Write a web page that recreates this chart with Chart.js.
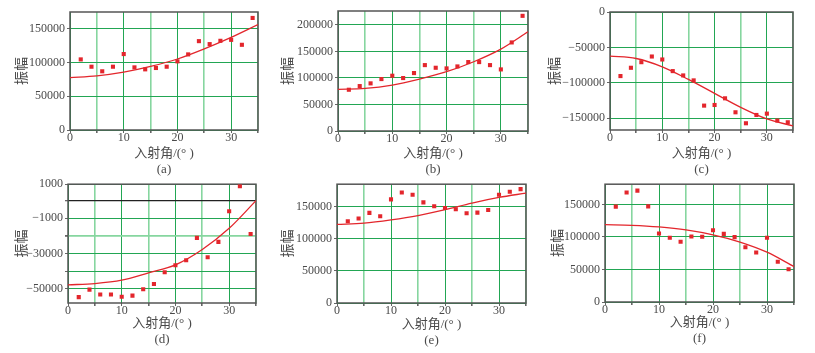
<!DOCTYPE html>
<html lang="zh">
<head>
<meta charset="UTF-8">
<title>振幅随入射角变化</title>
<script src="https://cdn.jsdelivr.net/npm/chart.js"></script>
<style>
  body {margin: 0; background: #fff;}
  #wrap {position: relative; width: 815px; height: 353px; overflow: hidden;}
  #wrap canvas {position: absolute;}
</style>
</head>
<body>
<div id="wrap">
  <canvas id="ca"></canvas>
  <canvas id="cb"></canvas>
  <canvas id="cc"></canvas>
  <canvas id="cd"></canvas>
  <canvas id="ce"></canvas>
  <canvas id="cf"></canvas>
</div>

<script>
  // 入射角 (measured points)
  const angles = [2, 4, 6, 8, 10, 12, 14, 16, 18, 20, 22, 24, 26, 28, 30, 32, 34];

  const ampA = [104400, 93600, 86800, 93600, 112300, 92600, 89700, 91700, 93600, 101500, 111800, 131400, 127000, 131900, 133300, 126000, 165700];
  const ampB = [77700, 84600, 89700, 97800, 104100, 99700, 109100, 124100, 119100, 117900, 121600, 129800, 129800, 124100, 116000, 166800, 216900];
  const ampC = [-90400, -78700, -70800, -62800, -67000, -83400, -89500, -96500, -132100, -131200, -121800, -141500, -157000, -145300, -143400, -153200, -155600];
  const ampD = [-54700, -50400, -53200, -53200, -54500, -53800, -50200, -47200, -40600, -36600, -33800, -21100, -32100, -23400, -6000, 8100, -18900];
  const ampE = [127400, 131500, 140300, 135100, 161400, 172100, 168500, 156700, 150600, 148000, 145900, 139800, 140800, 144900, 168500, 173200, 177300];
  const ampF = [146500, 168200, 171200, 147000, 105200, 98700, 92600, 100700, 100200, 110300, 104700, 99700, 84100, 76000, 98700, 61900, 50400];

  // fitted curves, read at every 5 degrees
  const fitX = [0, 5, 10, 15, 20, 25, 30, 35];
  const fitA = [77500, 80000, 85500, 94000, 105000, 120000, 137000, 156000];
  const fitB = [78400, 80200, 86500, 97800, 111600, 130400, 154200, 186800];
  const fitC = [-62300, -65600, -77300, -95100, -114800, -134500, -150900, -160700];
  const fitD = [-47700, -47000, -45100, -40900, -36400, -27700, -15700, 0];
  const fitE = [122300, 124400, 129500, 136200, 145400, 155700, 164400, 171100];
  const fitF = [118800, 117800, 115300, 110800, 103200, 92100, 76500, 54400];

  // axes
  const xRange = [0, 35];
  const xTicks = [0, 5, 10, 15, 20, 25, 30, 35];
  const xTickLabels = ['0', '', '10', '', '20', '', '30', ''];

  const yRangeA = [0, 174500];
  const yTicksA = [0, 50000, 100000, 150000];
  const yLabelsA = ['0', '50000', '100000', '150000'];
  const yRangeB = [0, 226000];
  const yTicksB = [0, 50000, 100000, 150000, 200000];
  const yLabelsB = ['0', '50000', '100000', '150000', '200000'];
  const yRangeC = [-166500, 0];
  const yTicksC = [0, -50000, -100000, -150000];
  const yLabelsC = ['0', '−50000', '−100000', '−150000'];
  const yRangeD = [-58000, 9300];
  const yTicksD = [9300, 0, -10000, -20000, -30000, -40000, -50000];
  const yLabelsD = ['1000', '', '−1000', '', '−30000', '', '−50000'];
  const yRangeE = [0, 185000];
  const yTicksE = [0, 50000, 100000, 150000];
  const yLabelsE = ['0', '50000', '100000', '150000'];
  const yRangeF = [0, 181000];
  const yTicksF = [0, 50000, 100000, 150000];
  const yLabelsF = ['0', '50000', '100000', '150000'];

  const xTitle = '入射角/(° )';
  const yTitle = '振幅';

  const SERIF = "'Liberation Serif', 'DejaVu Serif', serif";
  const TITLE_FONT = "'Liberation Serif', 'Noto Sans CJK SC', serif";
  const RED = '#e3262c';
  const DARK = '#22a653';
  const LIGHT = '#86d69f';
  const TEXT = '#4a4a4a';

  // box = canvas [x, y, w, h], area = plot [left, top, right, bottom] in page px
  const panels = [
    {id: 'ca', caption: '(a)', amp: ampA, fit: fitA, yRange: yRangeA, yTicks: yTicksA, yLabels: yLabelsA,
     box: [0, 0, 270, 178], area: [70, 12, 258, 130], yTitlePad: 14, capPad: 0},
    {id: 'cb', caption: '(b)', amp: ampB, fit: fitB, yRange: yRangeB, yTicks: yTicksB, yLabels: yLabelsB,
     box: [270, 0, 270, 178], area: [338, 11, 528, 131], yTitlePad: 10, capPad: 0},
    {id: 'cc', caption: '(c)', amp: ampC, fit: fitC, yRange: yRangeC, yTicks: yTicksC, yLabels: yLabelsC,
     box: [540, 0, 275, 178], area: [610, 12, 793, 130], yTitlePad: 7, capPad: 0},
    {id: 'cd', caption: '(d)', amp: ampD, fit: fitD, yRange: yRangeD, yTicks: yTicksD, yLabels: yLabelsD,
     box: [0, 175, 270, 178], area: [68, 184, 256, 303], yTitlePad: 14, capPad: 5, zeroLine: true, lightY: [-20000]},
    {id: 'ce', caption: '(e)', amp: ampE, fit: fitE, yRange: yRangeE, yTicks: yTicksE, yLabels: yLabelsE,
     box: [270, 175, 270, 178], area: [337, 182, 526, 303], yTitlePad: 10, capPad: 4},
    {id: 'cf', caption: '(f)', amp: ampF, fit: fitF, yRange: yRangeF, yTicks: yTicksF, yLabels: yLabelsF,
     box: [540, 175, 275, 178], area: [605, 182, 794, 302], yTitlePad: 10, capPad: 6}
  ];

  // plot frame on all four sides
  const framePlugin = {
    id: 'frame',
    beforeDatasetsDraw(chart) {
      const {ctx, chartArea: a} = chart;
      ctx.save();
      ctx.strokeStyle = '#555';
      ctx.lineWidth = 1.5;
      ctx.strokeRect(a.left, a.top, a.right - a.left, a.bottom - a.top);
      ctx.restore();
    }
  };

  panels.forEach(p => {
    const [bx, by, bw, bh] = p.box;
    const [L, T, R, B] = p.area;
    const canvas = document.getElementById(p.id);
    canvas.width = bw;
    canvas.height = bh;
    canvas.style.left = bx + 'px';
    canvas.style.top = by + 'px';

    const lightY = p.lightY || [];

    new Chart(canvas, {
      type: 'scatter',
      data: {
        datasets: [
          {
            data: p.amp.map((y, i) => ({x: angles[i], y: y})),
            pointStyle: 'rect',
            pointRadius: 2.9,
            backgroundColor: RED,
            borderWidth: 0,
            showLine: false
          },
          {
            data: fitX.map((x, i) => ({x: x, y: p.fit[i]})),
            showLine: true,
            pointRadius: 0,
            borderColor: RED,
            borderWidth: 1.3,
            cubicInterpolationMode: 'monotone',
            fill: false
          }
        ]
      },
      options: {
        responsive: false,
        animation: false,
        devicePixelRatio: 1,
        layout: {padding: {left: 0, top: T - by, right: bx + bw - R, bottom: 0}},
        plugins: {legend: {display: false}, tooltip: {enabled: false}},
        scales: {
          x: {
            type: 'linear',
            min: xRange[0],
            max: xRange[1],
            afterBuildTicks: s => { s.ticks = xTicks.map(v => ({value: v})); },
            afterFit: s => { s.height = by + bh - B; },
            ticks: {
              autoSkip: false, maxRotation: 0, padding: -1, color: TEXT,
              font: {family: SERIF, size: 12, lineHeight: 1},
              callback: v => xTickLabels[xTicks.indexOf(v)]
            },
            grid: {
              color: c => (c.tick && c.tick.value % 10 === 5) ? LIGHT : DARK,
              lineWidth: c => (c.tick && c.tick.value % 10 === 5) ? 1.6 : 1,
              tickLength: 3,
              tickColor: '#666'
            },
            border: {display: false},
            title: {
              display: true,
              text: [xTitle, p.caption],
              color: TEXT,
              font: {family: TITLE_FONT, size: 13, lineHeight: 1.23},
              padding: {top: 0, bottom: p.capPad}
            }
          },
          y: {
            type: 'linear',
            min: p.yRange[0],
            max: p.yRange[1],
            afterBuildTicks: s => { s.ticks = p.yTicks.map(v => ({value: v})); },
            afterFit: s => { s.width = L - bx; },
            ticks: {
              autoSkip: false, padding: 2, color: TEXT,
              font: {family: SERIF, size: 12},
              callback: v => p.yLabels[p.yTicks.indexOf(v)]
            },
            grid: {
              color: c => {
                const v = c.tick ? c.tick.value : null;
                if (p.zeroLine && v === 0) return '#222';
                return lightY.includes(v) ? LIGHT : DARK;
              },
              lineWidth: c => {
                const v = c.tick ? c.tick.value : null;
                if (p.zeroLine && v === 0) return 1.3;
                return lightY.includes(v) ? 1.8 : 1;
              },
              tickLength: 3,
              tickColor: '#666'
            },
            border: {display: false},
            title: {
              display: true,
              text: yTitle,
              color: TEXT,
              font: {family: TITLE_FONT, size: 14},
              padding: {top: p.yTitlePad, bottom: 0}
            }
          }
        }
      },
      plugins: [framePlugin]
    });
  });
</script>
</body>
</html>
